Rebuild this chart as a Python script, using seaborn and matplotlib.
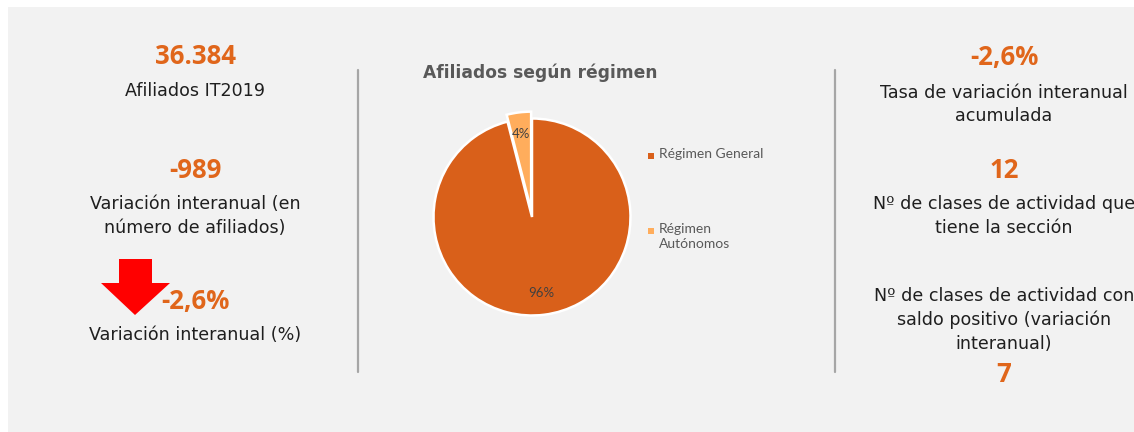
# IMPORT MODULES
import matplotlib
matplotlib.use("Agg")
import matplotlib.pyplot as plt
from matplotlib.patches import Rectangle, Polygon
import seaborn as sns

# DATA
regimenes = ["Régimen General", "Régimen\nAutónomos"]
porcentajes = [96, 4]

left_values = ["36.384", "-989", "-2,6%"]
left_labels = ["Afiliados IT2019", "Variación interanual (en\nnúmero de afiliados)", "Variación interanual (%)"]
right_values = ["-2,6%", "12", "7"]
right_labels = ["Tasa de variación interanual\nacumulada", "Nº de clases de actividad que\ntiene la sección",
                "Nº de clases de actividad con\nsaldo positivo (variación\ninteranual)"]

ORANGE_TXT = "#E0661B"
PIE_COLORS = ["#D9601A", "#FFAD5C"]
W, H = 1134, 432

sns.set_theme(style="white")
plt.rcParams["font.family"] = ["DejaVu Sans"]


def fx(x):
    return x / W


def fy(y):
    return 1 - y / H


fig = plt.figure(figsize=(W / 100, H / 100), dpi=100)
fig.patch.set_facecolor("white")

# gray panel
fig.patches.append(Rectangle((fx(8), 0), 1 - fx(8), fy(7), transform=fig.transFigure,
                             facecolor="#F2F2F2", edgecolor="none", zorder=-5))

# dividers
for xd in [358, 835]:
    fig.add_artist(plt.Line2D([fx(xd), fx(xd)], [fy(70), fy(372)], transform=fig.transFigure,
                              color="#A6A6A6", lw=1.6))

num_font = dict(family=["Open Sans", "DejaVu Sans"], fontweight="bold", fontsize=18.5, color=ORANGE_TXT,
                ha="center", va="center")
lab_font = dict(fontsize=12.6, color="#1F1F1F", ha="center", va="center", linespacing=1.42)

# left column
fig.text(fx(195), fy(57), left_values[0], **num_font)
fig.text(fx(195), fy(91), left_labels[0], **lab_font)
fig.text(fx(195), fy(170), left_values[1], **num_font)
fig.text(fx(195), fy(216), left_labels[1], **lab_font)
fig.text(fx(195), fy(301), left_values[2], **num_font)
fig.text(fx(195), fy(335), left_labels[2], **lab_font)

# red arrow
arrow = [(119, 259), (152, 259), (152, 283), (170, 283), (135, 315), (101, 283), (119, 283)]
fig.patches.append(Polygon([(fx(a), fy(b)) for a, b in arrow], closed=True, transform=fig.transFigure,
                           facecolor="#FF0000", edgecolor="none"))

# right column
fig.text(fx(1004), fy(57), right_values[0], **num_font)
fig.text(fx(1004), fy(104.5), right_labels[0], **lab_font)
fig.text(fx(1004), fy(170), right_values[1], **num_font)
fig.text(fx(1004), fy(216), right_labels[1], **lab_font)
fig.text(fx(1004), fy(320), right_labels[2], **lab_font)
fig.text(fx(1004), fy(375), right_values[2], **num_font)

# pie chart
cx, cy, r = 532, 217, 98.5
ax = fig.add_axes([fx(cx - r), fy(cy + r), 2 * r / W, 2 * r / H])
ax.set_facecolor("none")
wedges, texts, autotexts = ax.pie(porcentajes, colors=PIE_COLORS, startangle=90, counterclock=False,
                                  explode=[0, 0.07], autopct="%d%%", pctdistance=0.78,
                                  wedgeprops=dict(edgecolor="white", linewidth=1.8),
                                  textprops=dict(fontsize=9.5, color="#404040",
                                                 family=["Lato", "DejaVu Sans"]))
ax.set_xlim(-1, 1)
ax.set_ylim(-1, 1)
ax.axis("off")

fig.text(fx(423), fy(73), "Afiliados según régimen", fontsize=12.3, fontweight="bold",
         color="#595959", ha="left", va="center")

# legend
leg_y = [156, 231]
for lab, col, yy in zip(regimenes, PIE_COLORS, leg_y):
    fig.patches.append(Rectangle((fx(648), fy(yy + 3)), 6 / W, 6 / H, transform=fig.transFigure,
                                 facecolor=col, edgecolor="none"))
    fig.text(fx(659), fy(yy - 8), lab, fontsize=10, color="#595959", ha="left", va="top",
             family=["Lato", "DejaVu Sans"], linespacing=1.25)

plt.savefig("out.png", dpi=100)
